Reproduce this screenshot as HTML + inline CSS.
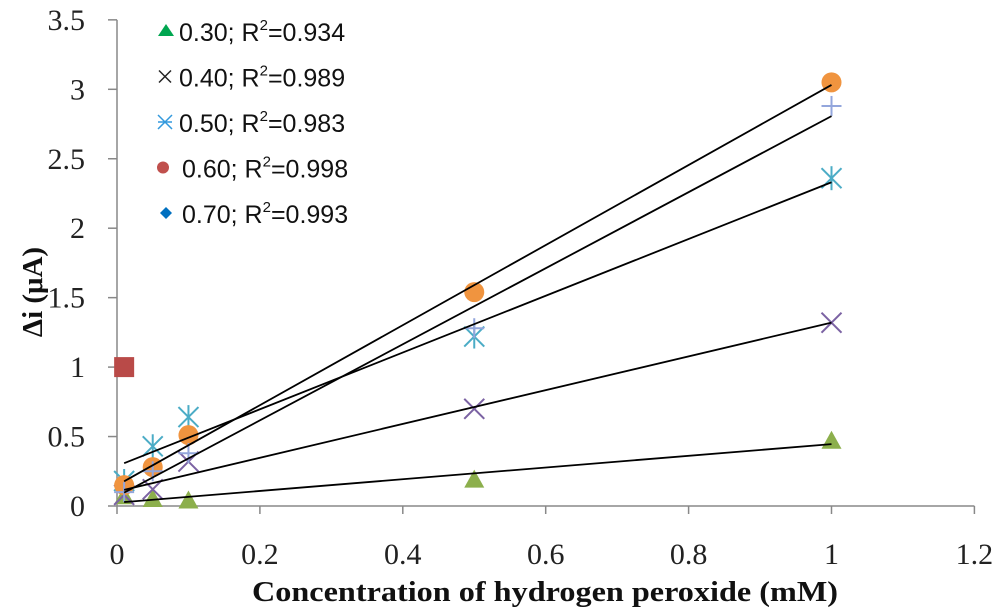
<!DOCTYPE html>
<html><head><meta charset="utf-8"><style>
body{margin:0;background:#fff}
svg{display:block}
.tk{font-family:"Liberation Serif",serif;font-size:30px;fill:#222}
.lg{font-family:"Liberation Sans",sans-serif;font-size:25px;fill:#111}
.tt{font-family:"Liberation Serif",serif;font-size:29px;font-weight:bold;fill:#111}
</style></head><body>
<svg id="chart" width="1000" height="609"></svg>
<script>
const xs=[0.01,0.05,0.1,0.5,1];
const s30=[0.07,0.05,0.04,0.19,0.47];
const s40=[0.08,0.12,0.32,0.70,1.32];
const s50=[0.18,0.43,0.64,1.22,2.36];
const s60=[0.15,0.28,0.51,1.54,3.05];
const s70=[0.10,0.25,0.38,1.28,2.88];
const outlierX=[0.01];const outlierY=[1.0];
const xTicks=[0,0.2,0.4,0.6,0.8,1,1.2];
const xTickLabels=["0","0.2","0.4","0.6","0.8","1","1.2"];
const yTicks=[0,0.5,1,1.5,2,2.5,3,3.5];
const yTickLabels=["0","0.5","1","1.5","2","2.5","3","3.5"];
const legendLabels=["0.30; R","0.40; R","0.50; R","0.60; R","0.70; R"];
const legendR2=["=0.934","=0.989","=0.983","=0.998","=0.993"];

const NS="http://www.w3.org/2000/svg";
const svg=document.getElementById('chart');
const X=v=>117+v*714.5, Y=v=>506-v*138.9;
function mk(t,a,p){const e=document.createElementNS(NS,t);for(const k in a)e.setAttribute(k,a[k]);(p||svg).appendChild(e);return e;}

let g=mk('g',{});

mk('line',{x1:117,y1:506,x2:X(1.2),y2:506,stroke:'#888','stroke-width':1.5},g);
xTicks.forEach((v,i)=>{mk('line',{x1:X(v),y1:506,x2:X(v),y2:514,stroke:'#888','stroke-width':1.5},g);
 const t=mk('text',{x:X(v),y:564,'text-anchor':'middle',class:'tk'},g);t.textContent=xTickLabels[i];
 });
g=mk('g',{});

mk('line',{x1:117,y1:Y(3.5),x2:117,y2:506,stroke:'#888','stroke-width':1.5},g);
yTicks.forEach((v,i)=>{mk('line',{x1:108,y1:Y(v),x2:117,y2:Y(v),stroke:'#888','stroke-width':1.5},g);
 const t=mk('text',{x:85,y:Y(v)+10,'text-anchor':'end',class:'tk'},g);t.textContent=yTickLabels[i];
 });
let t=mk('text',{x:252,y:601,class:'tt',textLength:586,lengthAdjust:'spacingAndGlyphs'});t.textContent='Concentration of hydrogen peroxide (mM)';

t=mk('text',{x:0,y:0,'text-anchor':'middle',class:'tt',transform:'translate(42,292) rotate(-90)'});t.textContent='Δi  (μA)';


function fit(ys){const n=xs.length;let mx=0,my=0;for(let i=0;i<n;i++){mx+=xs[i];my+=ys[i];}mx/=n;my/=n;
 let sxy=0,sxx=0;for(let i=0;i<n;i++){sxy+=(xs[i]-mx)*(ys[i]-my);sxx+=(xs[i]-mx)**2;}const b=sxy/sxx;return [my-b*mx,b];}
const series=[[s30,'tri','#8CAF4C'],[s40,'x','#7B62A3'],[s50,'ast','#4BACC6'],[s60,'circ','#F0943F'],[s70,'plus','#93A6DC']];
function marker(type,cx,cy,c,p,sz){
 sz=sz||1;
 if(type=='tri')return mk('polygon',{points:`${cx},${cy-10*sz} ${cx-10*sz},${cy+8*sz} ${cx+10*sz},${cy+8*sz}`,fill:c},p);
 if(type=='circ')return mk('circle',{cx,cy,r:10*sz,fill:c},p);
 const gg=mk('g',{stroke:c,'stroke-width':2,fill:'none'},p);const r=10*sz;
 if(type=='x'||type=='ast'){mk('line',{x1:cx-r,y1:cy-r,x2:cx+r,y2:cy+r},gg);mk('line',{x1:cx-r,y1:cy+r,x2:cx+r,y2:cy-r},gg);}
 if(type=='ast'){mk('line',{x1:cx,y1:cy-r*1.2,x2:cx,y2:cy+r*1.2},gg);}
 if(type=='plus'){mk('line',{x1:cx-r,y1:cy,x2:cx+r,y2:cy},gg);mk('line',{x1:cx,y1:cy-r,x2:cx,y2:cy+r},gg);}
 return gg;}
series.forEach((s,si)=>{const sg=mk('g',{});
 
 s[0].forEach((v,i)=>{const m=marker(s[1],X(xs[i]),Y(v),s[2],sg);
  });});
const sq=mk('rect',{x:X(outlierX[0])-10,y:Y(outlierY[0])-10,width:20,height:20,fill:'#B94A48'});

series.forEach((s,si)=>{const [a,b]=fit(s[0]);const x0=xs[0],x1=xs[xs.length-1];
 const l=mk('line',{x1:X(x0),y1:Y(a+b*x0),x2:X(x1),y2:Y(a+b*x1),stroke:'#000','stroke-width':1.8});
 });

const lgm=[['tri','#00A650'],['x','#222'],['ast','#3399DD'],['circ','#C0504D'],['dia','#0070C0']];
const lg=mk('g',{});
legendLabels.forEach((l,i)=>{const y=31+i*45.5;const eg=mk('g',{},lg);
 
 const [ty,c]=lgm[i];
 if(ty=='dia')mk('polygon',{points:`166,${y-6} 172,${y} 166,${y+6} 160,${y}`,fill:c},eg);
 else if(ty=='x'){const gg=mk('g',{stroke:c,'stroke-width':1.5},eg);mk('line',{x1:159,y1:y-6,x2:171,y2:y+6},gg);mk('line',{x1:159,y1:y+6,x2:171,y2:y-6},gg);}
 else if(ty=='ast'){const gg=mk('g',{stroke:c,'stroke-width':1.5},eg);mk('line',{x1:158,y1:y-7,x2:172,y2:y+7},gg);mk('line',{x1:158,y1:y+7,x2:172,y2:y-7},gg);mk('line',{x1:158,y1:y,x2:172,y2:y},gg);}
 else if(ty=='tri')mk('polygon',{points:`166,${y-7} 158,${y+5} 174,${y+5}`,fill:c},eg);
 else mk('circle',{cx:163,cy:y,r:6,fill:c},eg);
 const tx=mk('text',{x:i>=3?182:179,y:y+10,class:'lg'},eg);
 tx.appendChild(document.createTextNode(l));
 const sup=mk('tspan',{dy:-11,'font-size':15},tx);sup.textContent='2';
 const rest=mk('tspan',{dy:11},tx);rest.textContent=legendR2[i];});
</script></body></html>
